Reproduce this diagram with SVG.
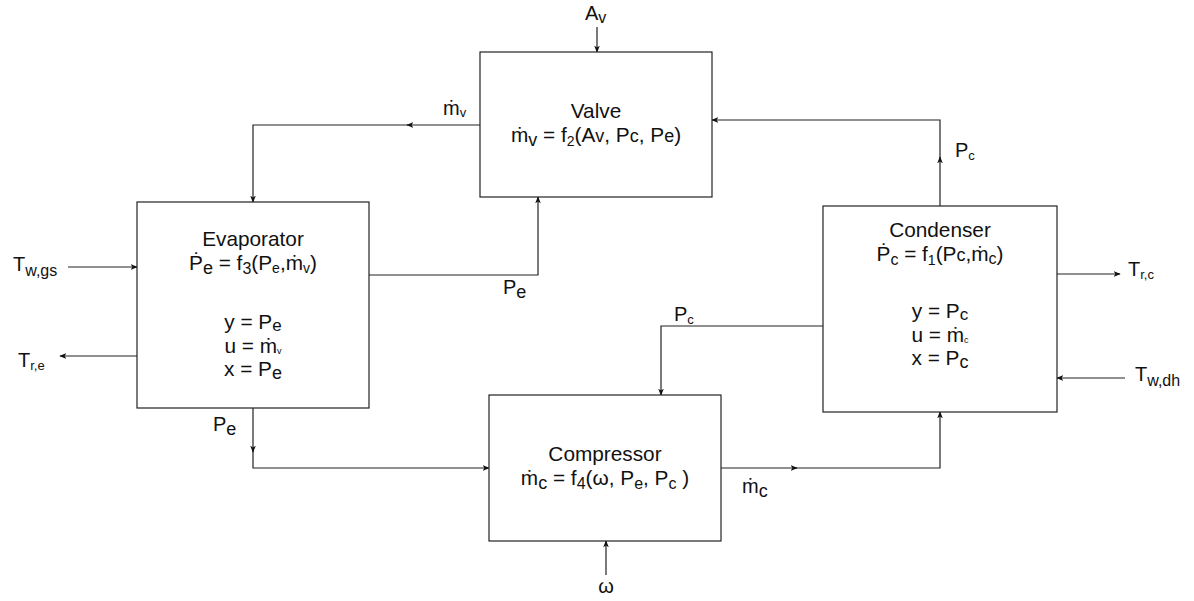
<svg xmlns="http://www.w3.org/2000/svg" width="1194" height="601" viewBox="0 0 1194 601">
<style>
.box{fill:#fff;stroke:#222;stroke-width:1.2}
.c{fill:none;stroke:#222;stroke-width:1.2}
text{font-family:"Liberation Sans",Arial,sans-serif;font-size:20px;fill:#111}
.m{text-anchor:middle;font-size:20.8px}
</style>
<defs>
<marker id="a" viewBox="0 0 10 8" refX="9" refY="4" markerWidth="7" markerHeight="6" orient="auto" markerUnits="userSpaceOnUse">
<path d="M0,0 L10,4 L0,8 L2.5,4 z" fill="#111"/>
</marker>
</defs>
<rect width="1194" height="601" fill="#fff"/>
<g id="connectors">
<path class="c" d="M597,27 V52" marker-end="url(#a)"/>
<path class="c" d="M480,125 H407" marker-end="url(#a)"/>
<path class="c" d="M408,125 H253 V202" marker-end="url(#a)"/>
<path class="c" d="M369,275 H538 V197" marker-end="url(#a)"/>
<path class="c" d="M940,206 V157" marker-end="url(#a)"/>
<path class="c" d="M940,158 V120 H712" marker-end="url(#a)"/>
<path class="c" d="M823,326 H661 V395" marker-end="url(#a)"/>
<path class="c" d="M253,408 V452" marker-end="url(#a)"/>
<path class="c" d="M253,451 V468 H489" marker-end="url(#a)"/>
<path class="c" d="M721,468 H797" marker-end="url(#a)"/>
<path class="c" d="M796,468 H940 V412" marker-end="url(#a)"/>
<path class="c" d="M606,575 V541" marker-end="url(#a)"/>
<path class="c" d="M68,267 H137" marker-end="url(#a)"/>
<path class="c" d="M137,356 H60" marker-end="url(#a)"/>
<path class="c" d="M1057,274 H1120" marker-end="url(#a)"/>
<path class="c" d="M1125,378 H1057" marker-end="url(#a)"/>
</g>
<g id="valve">
<rect class="box" x="480" y="52" width="232" height="145"/>
<text class="m" x="596" y="118">Valve</text>
<text class="m" x="596" y="142">ṁ<tspan dy="4" font-size="18">v</tspan><tspan dy="-4"> = f</tspan><tspan dy="4" font-size="14">2</tspan><tspan dy="-4">(A</tspan><tspan font-size="18">v</tspan>, P<tspan font-size="18">c</tspan>, P<tspan font-size="18">e</tspan>)</text>
</g>
<g id="evaporator">
<rect class="box" x="137" y="202" width="232" height="206"/>
<text class="m" x="253" y="246">Evaporator</text>
<text class="m" x="253" y="270">Ṗ<tspan dy="4" font-size="18">e</tspan><tspan dy="-4"> = f</tspan><tspan dy="4" font-size="16">3</tspan><tspan dy="-4">(P</tspan><tspan dy="3" font-size="14">e</tspan><tspan dy="-3">,ṁ</tspan><tspan dy="3" font-size="14">v</tspan><tspan dy="-3">)</tspan></text>
<text class="m" x="253" y="329">y = P<tspan dy="2" font-size="17">e</tspan></text>
<text class="m" x="253" y="353">u = ṁ<tspan dy="1" font-size="9">v</tspan></text>
<text class="m" x="253" y="376">x = P<tspan dy="3" font-size="18">e</tspan></text>
</g>
<g id="condenser">
<rect class="box" x="823" y="206" width="234" height="206"/>
<text class="m" x="940" y="237">Condenser</text>
<text class="m" x="940" y="261">Ṗ<tspan dy="4" font-size="16">c</tspan><tspan dy="-4"> = f</tspan><tspan dy="4" font-size="14">1</tspan><tspan dy="-4">(P</tspan><tspan font-size="18">c</tspan>,ṁ<tspan dy="3" font-size="16">c</tspan><tspan dy="-3">)</tspan></text>
<text class="m" x="940" y="318">y = P<tspan dy="2" font-size="17">c</tspan></text>
<text class="m" x="940" y="342">u = ṁ<tspan dy="1" font-size="9">c</tspan></text>
<text class="m" x="940" y="365">x = P<tspan dy="3" font-size="18">c</tspan></text>
</g>
<g id="compressor">
<rect class="box" x="489" y="395" width="232" height="146"/>
<text class="m" x="605" y="461">Compressor</text>
<text class="m" x="605" y="485">ṁ<tspan dy="4" font-size="18">c</tspan><tspan dy="-4"> = f</tspan><tspan dy="4" font-size="16">4</tspan><tspan dy="-4">(ω, P</tspan><tspan dy="4" font-size="16">e</tspan><tspan dy="-4">, P</tspan><tspan dy="4" font-size="16">c</tspan><tspan dy="-4"> )</tspan></text>
</g>
<g id="labels">
<text x="585" y="20">A<tspan dy="3" font-size="16">v</tspan></text>
<text x="443" y="115">ṁ<tspan dy="2" font-size="13">v</tspan></text>
<text x="503" y="294">P<tspan dy="4" font-size="18">e</tspan></text>
<text x="955" y="157">P<tspan dy="3" font-size="13">c</tspan></text>
<text x="674" y="321">P<tspan dy="3" font-size="13">c</tspan></text>
<text x="213" y="431">P<tspan dy="4" font-size="18">e</tspan></text>
<text x="742" y="493">ṁ<tspan dy="4" font-size="18">c</tspan></text>
<text class="m" x="606" y="593" style="font-size:20px">ω</text>
<text x="13" y="271">T<tspan dy="5" font-size="16">w,gs</tspan></text>
<text x="18" y="367">T<tspan dy="3" font-size="13">r,e</tspan></text>
<text x="1128" y="276">T<tspan dy="3" font-size="13">r,c</tspan></text>
<text x="1135" y="381">T<tspan dy="5" font-size="16">w,dh</tspan></text>
</g>
</svg>
